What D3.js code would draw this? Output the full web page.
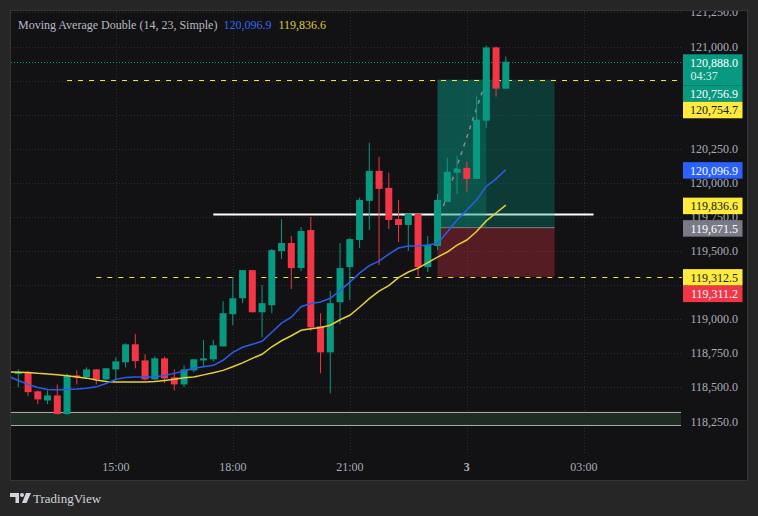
<!DOCTYPE html>
<html>
<head>
<meta charset="utf-8">
<script src="https://cdn.jsdelivr.net/npm/d3@7"></script>
<style>
  html, body { margin: 0; padding: 0; background: #262626; }
  svg { display: block; font-family: "Liberation Serif", "DejaVu Serif", serif; }
</style>
</head>
<body>
<script>
// 15 minute candles, first one at 12:30
const firstCandle = new Date(2025, 6, 2, 12, 30);

const opens = [118598,118610,118471,118404,118441,118304,118588,118574,118632,118559,
  118632,118684,118816,118698,118559,118713,118574,118522,118625,118698,
  118706,118801,119037,119154,119360,119051,119103,119500,119559,119375,
  119654,118948,118757,119125,119382,119581,119868,120088,119963,119735,
  119691,119772,119382,119537,119860,120074,120110,120029,120456,120993,
  120691];
const highs = [118632,118618,118478,118478,118522,118603,118625,118647,118635,118643,
  118721,118823,118890,118743,118728,118725,118632,118662,118706,118846,
  118846,119132,119309,119360,119362,119250,119515,119735,119610,119676,
  119750,119044,119206,119559,119596,119890,120294,120191,120074,119875,
  119779,119775,119610,119919,120184,120199,120154,120640,121007,121000,
  120926];
const lows = [118502,118436,118377,118377,118304,118300,118522,118566,118522,118551,
  118559,118647,118640,118551,118551,118532,118478,118502,118610,118654,
  118691,118801,118956,119118,119049,118868,119044,119441,119221,119353,
  118912,118603,118456,118963,119140,119522,119654,119397,119662,119566,
  119500,119316,119346,119507,119860,119919,119934,120029,120404,120632,
  120691];
const closes = [118615,118465,118412,118441,118304,118588,118574,118632,118559,118640,
  118691,118816,118693,118559,118713,118566,118522,118632,118706,118713,
  118809,119044,119154,119360,119051,119118,119507,119559,119375,119647,
  118941,118757,119118,119375,119588,119875,120088,119956,119728,119691,
  119772,119382,119544,119875,120081,120103,120029,120463,120993,120691,
  120888];

// moving averages start one bar earlier (12:15)
const ma14 = [118581,118551,118522,118500,118485,118483,118485,118488,118493,118504,118529,
  118559,118573,118576,118576,118577,118588,118603,118621,118640,118651,
  118662,118699,118757,118794,118816,118838,118904,118971,119015,119092,
  119115,119127,119154,119210,119272,119338,119393,119426,119478,119522,
  119537,119537,119544,119557,119640,119728,119801,119875,119974,120029,
  120096.9];
const ma23 = [118614,118612,118610,118603,118598,118592,118585,118577,118568,118555,118544,
  118539,118539,118539,118540,118544,118551,118559,118570,118577,118592,
  118608,118625,118651,118680,118713,118743,118798,118842,118879,118919,
  118930,118939,118956,118996,119029,119088,119151,119206,119246,119305,
  119346,119375,119415,119456,119493,119544,119581,119643,119721,119779,
  119836.6];

const priceTicks = [118250,118500,118750,119000,119250,119500,119750,120000,120250,120500,120750,121000,121250];
const timeTicks = [new Date(2025,6,2,15,0), new Date(2025,6,2,18,0), new Date(2025,6,2,21,0), new Date(2025,6,3,0,0), new Date(2025,6,3,3,0)];
const timeLabels = ["15:00", "18:00", "21:00", "3", "03:00"];

// drawings
const zoneBand = [118221, 118323];
const whiteLine = [new Date(2025,6,2,17,30), new Date(2025,6,3,3,15), 119768];
const dashedLevels = [[new Date(2025,6,2,13,45), 120754.7], [new Date(2025,6,2,14,30), 119312.5]];
const posTimes = [new Date(2025,6,2,23,15), new Date(2025,6,3,0,30), new Date(2025,6,3,2,15)];
const posPrices = [120756.9, 119671.5, 119311.2]; // target, entry, stop
const posPath = [[new Date(2025,6,2,23,24), 119830], [new Date(2025,6,3,0,30), 120754.7]];
const lastPrice = 120888.0;
const countdown = "04:37";

const legendName = "Moving Average Double (14, 23, Simple)";

const W = 758, H = 516;
const green = "#089981", red = "#f23645", blue = "#2a5ee8", yellow = "#e3d03a";

const candleTimes = opens.map((_, i) => d3.timeMinute.offset(firstCandle, 15 * i));
const maTimes = ma14.map((_, i) => d3.timeMinute.offset(firstCandle, 15 * (i - 1)));

const x = d3.scaleTime()
  .domain([firstCandle, candleTimes[candleTimes.length - 1]])
  .range([18.3, 505.8]);
const y = d3.scaleLinear().domain([118250, 121000]).range([421.5, 46.5]);

const svg = d3.select('body').append('svg').attr('width', W).attr('height', H);
svg.append('rect').attr('width', W).attr('height', H).attr('fill', '#262626');
svg.append('rect')
  .attr('x', 10.5).attr('y', 10.5).attr('width', 737).attr('height', 470)
  .attr('fill', '#121215').attr('stroke', '#353535');

const defs = svg.append('defs');
defs.append('clipPath').attr('id', 'plot').append('rect')
  .attr('x', 11).attr('y', 11).attr('width', 671).attr('height', 444);
defs.append('clipPath').attr('id', 'axis').append('rect')
  .attr('x', 682).attr('y', 11).attr('width', 65).attr('height', 469);

const plot = svg.append('g').attr('clip-path', 'url(#plot)');

// grid
plot.selectAll('line.hgrid').data(priceTicks).enter().append('line')
  .attr('x1', 11).attr('x2', 682)
  .attr('y1', d => Math.round(y(d)) + 0.5).attr('y2', d => Math.round(y(d)) + 0.5)
  .attr('stroke', '#2c2c31').attr('stroke-dasharray', '1,2');
plot.selectAll('line.vgrid').data(timeTicks).enter().append('line')
  .attr('x1', d => Math.round(x(d)) + 0.5).attr('x2', d => Math.round(x(d)) + 0.5)
  .attr('y1', 11).attr('y2', 453)
  .attr('stroke', '#2c2c31').attr('stroke-dasharray', '1,2');

// zone at the bottom
plot.append('rect')
  .attr('x', 10).attr('width', 671)
  .attr('y', y(zoneBand[1])).attr('height', y(zoneBand[0]) - y(zoneBand[1]))
  .attr('fill', '#1e2c21');
zoneBand.forEach(p => {
  plot.append('line').attr('x1', 10).attr('x2', 681)
    .attr('y1', Math.round(y(p)) + 0.5).attr('y2', Math.round(y(p)) + 0.5)
    .attr('stroke', '#a8a8a8');
});

// white horizontal line
plot.append('line')
  .attr('x1', x(whiteLine[0])).attr('x2', x(whiteLine[1]))
  .attr('y1', y(whiteLine[2])).attr('y2', y(whiteLine[2]))
  .attr('stroke', '#ffffff').attr('stroke-width', 2);

// long position box
const bx0 = x(posTimes[0]), bxHit = x(posTimes[1]), bx1 = x(posTimes[2]);
plot.append('rect').attr('x', bx0).attr('width', bx1 - bx0)
  .attr('y', y(posPrices[0])).attr('height', y(posPrices[1]) - y(posPrices[0]))
  .attr('fill', green).attr('fill-opacity', 0.3);
plot.append('rect').attr('x', bx0).attr('width', bxHit - bx0)
  .attr('y', y(posPrices[0])).attr('height', y(posPrices[1]) - y(posPrices[0]))
  .attr('fill', green).attr('fill-opacity', 0.28);
plot.append('rect').attr('x', bx0).attr('width', bx1 - bx0)
  .attr('y', y(posPrices[1])).attr('height', y(posPrices[2]) - y(posPrices[1]))
  .attr('fill', red).attr('fill-opacity', 0.3);
plot.append('line').attr('x1', bx0).attr('x2', bx1)
  .attr('y1', y(posPrices[1])).attr('y2', y(posPrices[1]))
  .attr('stroke', '#7d7f86').attr('stroke-width', 1);
plot.append('line')
  .attr('x1', x(posPath[0][0])).attr('y1', y(posPath[0][1]))
  .attr('x2', x(posPath[1][0])).attr('y2', y(posPath[1][1]))
  .attr('stroke', '#8a8c92').attr('stroke-width', 1.5).attr('stroke-dasharray', '4,5');

// dashed yellow levels and last price line
dashedLevels.forEach(([t, p]) => {
  plot.append('line').attr('x1', x(t)).attr('x2', 682)
    .attr('y1', Math.round(y(p)) + 0.5).attr('y2', Math.round(y(p)) + 0.5)
    .attr('stroke', '#f5e23c').attr('stroke-dasharray', '5,6');
});
plot.append('line').attr('x1', 11).attr('x2', 682)
  .attr('y1', Math.round(y(lastPrice)) + 0.5).attr('y2', Math.round(y(lastPrice)) + 0.5)
  .attr('stroke', green).attr('stroke-dasharray', '1,2');

// candles
const candles = plot.selectAll('g.candle').data(opens).enter().append('g');
candles.append('line')
  .attr('x1', (d, i) => x(candleTimes[i])).attr('x2', (d, i) => x(candleTimes[i]))
  .attr('y1', (d, i) => y(highs[i])).attr('y2', (d, i) => y(lows[i]))
  .attr('stroke', (d, i) => closes[i] >= d ? green : red);
candles.append('rect')
  .attr('x', (d, i) => x(candleTimes[i]) - 3.5).attr('width', 7)
  .attr('y', (d, i) => y(Math.max(d, closes[i])))
  .attr('height', (d, i) => Math.max(1, Math.abs(y(d) - y(closes[i]))))
  .attr('fill', (d, i) => closes[i] >= d ? green : red);

// moving averages
const maLine = d3.line().x((d, i) => x(maTimes[i])).y(d => y(d));
plot.append('path').datum(ma23).attr('d', maLine)
  .attr('fill', 'none').attr('stroke', yellow).attr('stroke-width', 1.5);
plot.append('path').datum(ma14).attr('d', maLine)
  .attr('fill', 'none').attr('stroke', blue).attr('stroke-width', 1.5);

// price axis labels (boxes placed first so ticks hidden under them can be skipped)
const fmt = d3.format(",.1f");
const labels = [
  { price: lastPrice, bg: green, fg: "#ffffff", extra: countdown },
  { price: posPrices[0], bg: green, fg: "#ffffff" },
  { price: dashedLevels[0][1], bg: "#ffeb3b", fg: "#131722" },
  { price: ma14[ma14.length - 1], bg: "#2962ff", fg: "#ffffff" },
  { price: ma23[ma23.length - 1], bg: "#ffeb3b", fg: "#131722" },
  { price: posPrices[1], bg: "#787b86", fg: "#ffffff" },
  { price: dashedLevels[1][1], bg: "#ffeb3b", fg: "#131722" },
  { price: posPrices[2], bg: red, fg: "#ffffff" }
];
let prevBottom = -Infinity;
labels.forEach(l => {
  l.h = l.extra ? 31 : 16.5;
  l.top = Math.max(y(l.price) - 7.5, prevBottom);
  prevBottom = l.top + l.h;
});

const axis = svg.append('g').attr('clip-path', 'url(#axis)');
const covered = p => labels.some(l => y(p) >= l.top - 0.5 && y(p) <= l.top + l.h + 0.5);
axis.selectAll('text.tick').data(priceTicks.filter(p => !covered(p))).enter().append('text')
  .attr('x', 738).attr('y', d => y(d) + 4)
  .attr('text-anchor', 'end').attr('font-size', 12).attr('fill', '#a9acb5')
  .text(d => fmt(d));

labels.forEach(l => {
  axis.append('rect').attr('x', 683).attr('y', l.top).attr('width', 59.5).attr('height', l.h)
    .attr('fill', l.bg);
  axis.append('text').attr('x', 738).attr('y', l.top + 12.5)
    .attr('text-anchor', 'end').attr('font-size', 12).attr('fill', l.fg)
    .text(fmt(l.price));
  if (l.extra) {
    axis.append('text').attr('x', 690.5).attr('y', l.top + 26)
      .attr('font-size', 12).attr('fill', '#dff3ee').text(l.extra);
  }
});

// time axis
svg.selectAll('text.time').data(timeTicks).enter().append('text')
  .attr('x', d => x(d)).attr('y', 471)
  .attr('text-anchor', 'middle').attr('font-size', 12)
  .attr('fill', '#a9acb5')
  .attr('font-weight', (d, i) => timeLabels[i] === "3" ? 'bold' : 'normal')
  .text((d, i) => timeLabels[i]);

// legend
const legend = svg.append('text').attr('x', 18).attr('y', 29).attr('font-size', 12);
legend.append('tspan').attr('fill', '#b6b9c2').text(legendName);
legend.append('tspan').attr('dx', 6).attr('fill', '#3566f0').text(fmt(ma14[ma14.length - 1]));
legend.append('tspan').attr('dx', 7).attr('fill', '#dccb3a').text(fmt(ma23[ma23.length - 1]));

// TradingView mark
const logo = svg.append('g').attr('fill', '#d1d4dc');
logo.append('path').attr('d', 'M10,493 H19 V503 H15.5 V497 H10 Z');
logo.append('circle').attr('cx', 22).attr('cy', 495).attr('r', 2);
logo.append('path').attr('d', 'M26,493 H31 L26.5,503 H22 Z');
svg.append('text').attr('x', 33).attr('y', 503).attr('font-size', 13)
  .attr('fill', '#d1d4dc').text('TradingView');
</script>
</body>
</html>
